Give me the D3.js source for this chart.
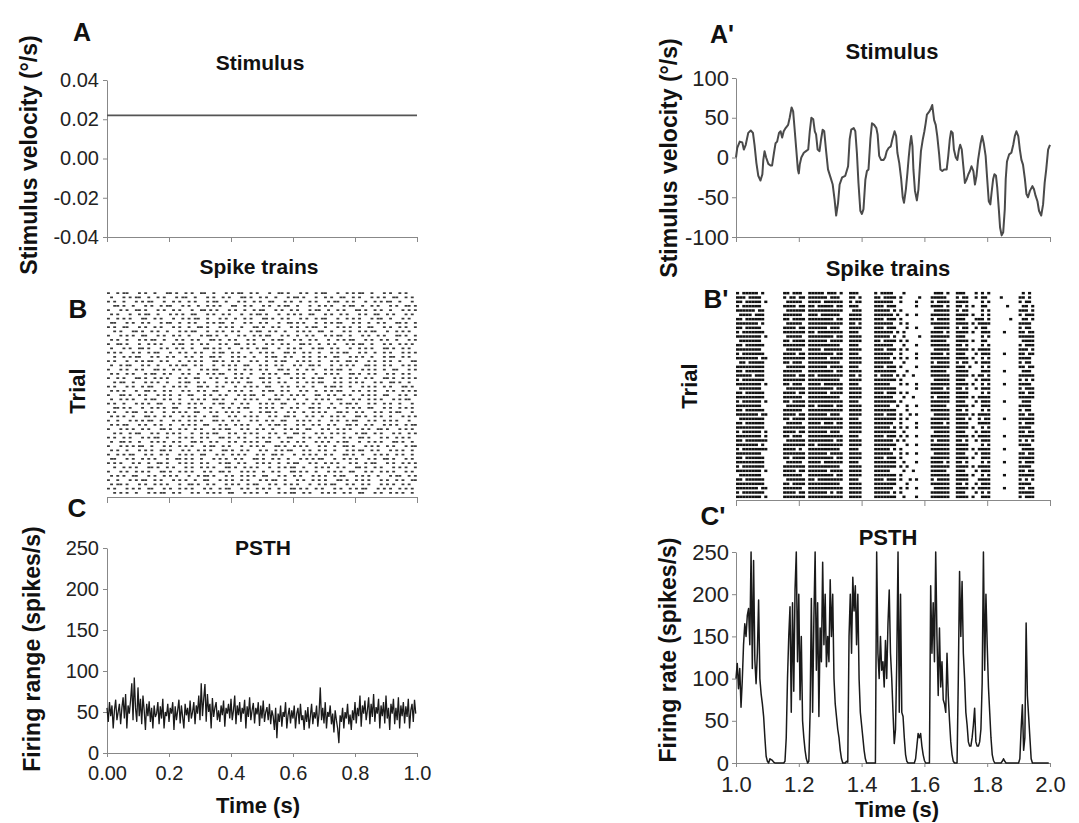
<!DOCTYPE html>
<html><head><meta charset="utf-8">
<script src="https://cdn.jsdelivr.net/npm/d3@7"></script>
<style>html,body{margin:0;padding:0;background:#fff}svg{display:block}</style>
</head><body><svg id="c" width="1079" height="823"></svg>
<script>
// ---------------- DATA ----------------
// Panel A: constant stimulus (°/s)
const stimLeftTimes = [0.0, 1.0];
const stimLeftValues = [0.022, 0.022];
const stimLeftYTicks = [-0.04, -0.02, 0.0, 0.02, 0.04];
// Panel A': random stimulus (°/s)
const stimRightTimes = [1.000,1.004,1.012,1.020,1.025,1.031,1.039,1.047,1.054,1.059,1.065,1.071,1.078,1.084,1.087,1.091,1.096,1.103,1.110,1.115,1.121,1.126,1.131,1.137,1.142,1.147,1.152,1.158,1.166,1.171,1.177,1.182,1.186,1.192,1.197,1.200,1.203,1.208,1.216,1.223,1.230,1.235,1.240,1.246,1.251,1.255,1.260,1.266,1.271,1.276,1.281,1.287,1.293,1.301,1.308,1.314,1.319,1.325,1.330,1.338,1.348,1.357,1.362,1.367,1.375,1.380,1.385,1.390,1.396,1.401,1.406,1.412,1.417,1.422,1.428,1.433,1.440,1.447,1.451,1.456,1.462,1.470,1.475,1.480,1.486,1.493,1.498,1.505,1.510,1.514,1.520,1.526,1.531,1.535,1.541,1.546,1.550,1.554,1.558,1.562,1.565,1.570,1.576,1.581,1.585,1.589,1.595,1.600,1.604,1.608,1.616,1.621,1.625,1.631,1.636,1.641,1.647,1.651,1.657,1.663,1.671,1.676,1.681,1.685,1.690,1.694,1.700,1.705,1.710,1.714,1.719,1.724,1.729,1.735,1.740,1.745,1.750,1.756,1.761,1.766,1.771,1.779,1.784,1.789,1.795,1.800,1.805,1.810,1.814,1.819,1.823,1.828,1.832,1.837,1.841,1.846,1.851,1.856,1.859,1.863,1.870,1.877,1.883,1.888,1.893,1.899,1.904,1.909,1.914,1.920,1.925,1.930,1.936,1.944,1.949,1.954,1.960,1.965,1.972,1.978,1.983,1.988,1.994,2.000];
const stimRightValues = [0,12,20,19,10,16,31,34,31,16,-7,-23,-29,-21,-3,8,0,-8,-10,-10,6,18,20,31,33,25,33,37,41,50,63,58,39,10,-15,-20,-9,0,6,8,10,33,50,48,33,29,10,8,23,35,33,8,-15,-25,-34,-53,-73,-57,-34,-25,-23,-11,23,35,37,33,6,-32,-67,-71,-65,-28,-17,-15,23,43,41,37,29,2,-3,-3,0,8,12,14,23,33,27,6,-7,-27,-50,-57,-40,-19,0,16,27,14,-15,-42,-54,-40,-15,8,23,33,43,54,58,62,66,47,41,27,4,-15,-17,-15,-15,2,23,33,31,10,0,-3,10,16,10,-11,-32,-27,-21,-17,-11,-17,-34,-23,-3,18,27,18,2,-27,-55,-59,-44,-27,-21,-23,-38,-65,-88,-98,-94,-65,-27,-5,4,6,16,27,33,27,10,-3,-9,-27,-46,-50,-42,-36,-40,-48,-55,-67,-73,-59,-32,-15,10,16];
const stimRightYTicks = [-100, -50, 0, 50, 100];

// Time ticks
const timeTicksLeft = [0.0, 0.2, 0.4, 0.6, 0.8, 1.0];
const timeLabelsLeft = ["0.00", "0.2", "0.4", "0.6", "0.8", "1.0"];
const timeTicksRight = [1.0, 1.2, 1.4, 1.6, 1.8, 2.0];
const timeLabelsRight = ["1.0", "1.2", "1.4", "1.6", "1.8", "2.0"];
const rateTicks = [0, 50, 100, 150, 200, 250];

// Panel B: spike trains, one string per trial, one character per 10 ms bin ('#' = spike)
const rasterBin = 0.01;
const rasterLeft = [
"#..#.##...#.#..#...##.#..#.#..##..#...#.#.##..#.#...#..##.#...#.#..#.##...#..#.#.##..#...#.#..#.#..",
".#...#.#.##..#..#.#...#.##..#...#.#..#.#...##.#..#.#..#...#.##.#...#..#.#..##..#.#...#.#.#..##..#.#",
"#.#..#...#.#.##...#..#.#..#.#...#.##..#...#.#..#.#..##...#.#..#..#.#...#.##..#.#...#..#.#.##..#...#.",
"..##.#..#...#.#..#.##...#.#..#..#.#.#...##..#.#...#.#..#.##..#...#..#.#.#...#.##..#..#.#...#.#..##.#",
"#...#.#..##.#...#.#..#.#...#..##.#.#...#.#..#..#.##...#.#..#.#...#.##..#..#.#...##.#..#.#..#...#.#.#",
".#.#...#..#.##..#...#.#.#..##...#.#..#.#...#..#.##.#...#..#.#.#..##...#.#..#.#...#.#..##..#.#...#.#.",
"#..#.#.#...##..#.#...#..#.#.##..#...#.#..#..#.#...##.#..#.#...#.#..#.##...#..#.#.#...#.##..#...#.#..",
".##...#.#..#.#...#.##..#..#.#...#.#.##..#...#.#..#.#...#..##.#.#...#..#.#.##...#.#..#..#.#...##.#..#",
"#.#..##...#.#..#.#...#.#..#..##.#...#.#.#..#...##.#..#.#...#.#..#.##..#...#.#.#..#..##...#.#..#.#..#",
"..#.#...##.#..#.#..#...#.#.##...#..#.#..#.#...#.##..#.#..#...#.#.#..##..#...#.#..#.#.##...#..#.#.#..",
"#...#.#.#..##...#.#..#.#..#...#.##.#..#...#.#..#.#.##...#.#..#..#.#...#.#.##..#...#.#..#.#...##.#..#",
".#.#..#...#.#.##..#...#.#..#.#...##.#..#.#...#.#..#..#.##...#.#..#.#...#..#.#.##...#.#..#.#..#...#.#",
"#..##.#...#..#.#.#...#.##..#..#.#...#.#..##..#.#...#.#..#.#...##.#..#..#.#...#.#.##..#...#.#..#.#.#.",
".#...#.#..##.#...#.#..#.#..#...##.#.#..#...#.#..#.##...#..#.#.#...#.##..#.#...#..#.#.#...##.#..#.#..",
"#.#.#...#.#..#.##...#..#.#..#.#...#.##..#.#...#..#.#.#...##.#..#.#..#...#.#.##...#.#..#..#.#...#.#.#",
"..#..#.#.##...#.#..#.#...#.#..#..##.#...#.#.#..#...#.##..#.#...#.#..#.#..##...#.#.#..#...#.##..#.#..",
"#.#...#..#.#.##..#.#...#..#.#.#...##.#..#.#...#.#..#..#.##...#.#.#..#...#.#..##.#...#.#..#.#..#...##",
".#..#.##...#.#..#...#.#.##..#.#...#..#.#.#..##...#.#..#.#...#.#..##.#...#..#.#.#...##.#..#.#...#.#.#",
"#...#.#..#.#...##.#..#.#..#...#.#.##...#.#..#.#..#.#...##.#..#..#.#...#.#.##..#...#.#.#..#..##...#.#",
".#.#..#.#...#.##..#.#...#.#..#..#.#.##...#.#..#...#.#.#..##..#.#...#..#.#.#...##.#..#.#...#.#..#.#..",
"#..#.#...##.#..#.#.#...#.#..##...#.#..#..#.#.#...##.#..#...#.#.#..#.##...#.#..#.#..#.#...##.#..#.#.#",
"..#.##..#...#.#.#..#...#.##..#.#...#..#.#.#..##...#.#..#.#...#..#.#.##...#.#..#.#.#...#.#..##.#..#..",
"#.#...#.#..#.##...#..#.#.#...##.#..#.#...#..#.#.#..##...#.#..#.#..#...#.##.#..#...#.#.#..#.#...##.#.",
".#.#.#...#..##.#..#.#...#.#..#.#..##...#.#.#..#...#.##..#.#...#.#..#..#.#.##...#.#..#.#...#.#..#.#.#",
"#...##.#..#.#...#.#.#..#..##...#.#..#.#...#.#.##..#...#.#..#.#.#...##..#.#..#.#...#.#.#..##...#.#..#",
".#..#.#.#...#.##..#.#..#...#.#.#..##.#...#..#.#.#...#.##..#.#...#..#.#.#..##...#.#..#.#.#...#.#.##..",
"#.#..#...#.#.#..##...#.#..#.#.#...#.##..#..#.#...#.#.#..##...#.#..#.#...#..#.##.#...#.#..#.#..#...#.",
"..##.#.#...#..#.#.#..##...#.#..#.#...#.#..#.##...#.#.#..#..#.#...##.#..#.#...#.#.#..##...#.#..#.#.#.",
"#.#...#.##..#.#...#..#.#.#..##...#.#..#.#.#...#..#.##.#...#.#..#..#.#.#...##.#..#.#...#.#..#.##...#.",
".#.#.#..#...##.#..#.#...#.#.#..#..##...#.#..#.#.#...#.#..##.#...#.#..#..#.#.#...##.#..#.#..#...#.#.#",
"#..#...#.#.#.##..#...#.#..#.#.#...##.#..#.#...#.#..#.#..##...#.#.#..#...#.#..#.##...#.#..#.#.#...#..",
".#.#.##...#.#..#.#..#...#.#.#..##...#.#..#.#.#...#..#.##.#...#.#..#.#..#.#...##.#..#.#...#.#.#..#.##",
"#...#.#.#..#.#...##.#..#.#..#.#...#.#.##...#.#..#.#..#...#.#.#..##...#.#..#.#.#...#.#..##.#...#.#.#.",
"..#.#..#.##...#.#..#.#.#...#..#.#.##...#.#..#.#.#...#.#..#..##.#...#.#..#.#.#...#.##..#.#...#.#..#.#",
"#.#..#.#...#.#.##..#...#.#.#..#.#...##.#..#.#...#.#.#..#..##...#.#..#.#.#...#.#..##.#...#.#..#.#.#..",
".#..##.#..#...#.#.#..#.#...##.#..#.#...#.#..#.#.#..##...#.#..#.#...#.#.#..#.##...#..#.#.#...##.#..#.",
"#...#.#.#.##..#...#.#..#.#.#...#.##..#.#...#..#.#.#...##.#..#.#.#...#.#..#..##.#...#.#.#..#.#...#.##",
".#.#..#...#.#.#..##.#...#.#..#.#.#...##.#..#.#...#.#..#.#.##...#.#..#.#..#...#.#.##..#.#...#.#.#..#.",
"#..#.#.##...#.#..#.#...#.#.#..##...#.#..#.#.#...#.#..##.#...#..#.#.#..#.#...##.#..#...#.#.#..#.#..#.",
".##...#.#..#.#.#...#..##.#.#..#...#.#.#..#.#...##.#..#.#..#...#.#.#.##...#..#.#.#...#.#..##.#...#.#.",
"#.#.#...#.#..#..##.#...#.#.#..#.#...#.##..#.#...#.#.#..#..#.##...#.#..#.#.#...#.#..#.##...#.#..#.#.#",
"..#..#.#.#...##.#..#.#...#.#..#.#.#...##.#..#.#.#...#..#.#.##..#...#.#.#..#.#...##.#..#.#...#.#.#..#",
"#...#.#..#.#.#...##.#..#.#.#...#.#..##.#...#.#.#..#..#.#...##.#.#..#...#.#.#..##...#.#..#.#.#...#.#.",
".#.#.#..##...#.#..#.#.#...#..#.##.#...#.#..#.#.#..##...#.#..#.#...#.#.#..#.##...#.#.#..#...#.##..#.#",
"#..#...#.#.##..#.#...#.#.#..#..##...#.#.#..#.#...#.#.##..#...#.#..#.#.#...##.#..#.#.#...#.#..#.#..##",
".#.##.#...#.#..#.#.#...#..##.#..#.#...#.#.#..#.##...#.#..#.#.#...#..#.#.##...#.#..#.#...#.#.#..#.#..",
"#.#...#.#.#..##...#.#..#.#.#...#.#..#.##...#.#..#.#.#..#...##.#.#..#.#...#.#..#.#.##...#.#.#..#.#.#.",
"..#.#.#..#...#.#.##..#.#...#.#..#.#.#..##...#.#.#..#...#.#.##..#.#...#.#.#..#.#..##...#.#..#.#.#..#."
];
const rasterRight = [
"#.#####.#. .....##.## #..#####.# ##.#..###. ....#.#### ...#...... ...###.#.. ###...#.#. #......... .#.#......",
"###.####.. .....#.##. ##.######. ###...##.# ....##.### #.#.....#. ..#####... #.##..#.## ....#..... ##.#......",
"##.#####.# ......#### #..####.## ####..#.## ....###### ..#....#.. ..#.####.. ####....#. #......... #.##......",
"#.######.. .....####. ##.##.#### #.##..###. ....###.## #......#.. ..####.#.. ##.#.#..## ......#... .##.#.....",
"######.##. ......#### ##.####### ####...### ....#####. #.#....... ...#####.. #.##....#. #......... ###.#.....",
".####.###. .....##### #..###.### ###...#### ....###### .#..#..#.. ..######.. ####.#..#. #......... #.###.....",
"##.######. .....##.## ##.####### #.##..#### ....###.## #.#....... ..#.####.. ###...###. #......#.. .##.#.....",
"#######.#. ......#### #..####### ####..##.# ....###### ..#.#..... ..######.. ####.#.### #......... ####......",
"##.#####.. .....####. ##.######. ###...#### ....###.## #...#..#.. ...#####.. #.##..#.## .......... #.##......",
"#.#######. .....##### ##.##.#### ####..###. ....###### .#.#...... ..####.#.. ####.#..## #....#.... ##.##.....",
"########.# ......#### #..####### #.##..#### ....#####. #..#....#. ..######.. ###.....#. #......... #####.....",
".#######.. .....##.## ##.######. ####..#### ....##.### #.#.#..... ..#####... ####.#..## .......... .####.....",
"##.######. .....##### ##.####### ###...###. ....###### ...#...#.. ..######.. ##.#....#. #......... #.###.....",
"########.. ......#### #..####.## ####..#### ....###.## #.#.#..... ...#####.. ####.#.### #......... ###.#.....",
"#.#######. .....####. ##.####### #.##..###. ....###### ..#....#.. ..####.#.. ###...#.## #....#.... ##.##.....",
"#######.## .....##### ##.######. ####..#### ....#####. #.#.#..#.. ..######.. ####.#..#. #......... ####......",
".##.#####. .....##.## #..####### ###...#### ....###### ...#...... ..#.####.. #.##..#.## #......... #.##......",
"#########. ......#### ##.######. ####..###. ....###.## #.#....#.. ..######.. ###.#...#. #......... ##.##.....",
"##.######. .....##### #..####### #.##..#### ....###### #...#..... ..#####... ####....## #....#.... .###......",
"#####.###. .....####. ##.##.#### ####..##.# ....#.#### .#.#..#... ..######.. ####.#.##. #......... #####.....",
"#.#######. .....##### ##.####### ###...#### ....###### #.#....... ...#####.. ###...#.## #......... #.#.#.....",
"########.# .....##.## #..####.## ####..###. ....#####. ..#.#..#.. ..######.. ####.#..#. #....#.... ####......",
".#######.. ......#### ##.####### #.##..#### ....###### #......#.. ..####.#.. ##.#..#.## #......... #.###.....",
"##.######. .....####. ##.######. ####..#### ....###.## #.#.#..... ..######.. ####....#. #......... ##.##.....",
"#########. .....##### #..####### ###...#### ....###### ...#..#... ..#.####.. ####.#.### #......... #####.....",
"#.######.# .....##.## ##.####### ####..###. ....###### #.#....... ..######.. ###...#.## #....#.... .###......",
"########.. ......#### ##.##.#### #.##..#### ....#####. .#..#..#.. ..#####... ####.#..## #......... ####......",
"##.######. .....##### #..####### ####..#### ....###### #...#..... ..######.. ##.#....#. #......... #.##......",
"#######.## .....####. ##.######. ###...#### ....###.## #.#..#.#.. ...#####.. ####.#.### #......... ##.##.....",
".########. .....##.## ##.####### ####..###. ....###### #.#.#..... ..######.. ###.#..#.# #....#.... #####.....",
"##.######. ......#### #..####.## #.##..#### ....###### ..#....#.. ..####.#.. ####...### #......... #.###.....",
"#########. .....##### ##.####### ####..#### ....#####. #.#.#..#.. ..######.. ####.#..#. #......... ####......",
"#.######.# .....####. ##.######. ###...#### ....###### #..#...... ...#####.. ###...#.## #......... ##.##.....",
"########.# .....##.## #..####### ####..###. ....###.## #.#.#..#.. ..######.. ####.#.### #....#.... #####.....",
"##.####### ......#### ##.####### #.##..#### ....###### .#.#...... ..#.####.. ##.#..#.## #......... #.#.#.....",
"#######.#. .....##### ##.##.#### ####..#### ....###### #...#..#.. ..######.. ####....#. #......... ####......",
"#.######## .....####. #..####### ###...###. ....#####. #.#....... ..######.. ####.#.### #....#.... .####.....",
"########.. .....##### ##.######. ####..#### ....###### ..#.#..#.. ...#####.. ###...#.## #......... ##.##.....",
"##.######. .....##.## ##.####### #.##..#### ....###.## #.#....... ..######.. ####.#..## #......... #####.....",
"#########. ......#### #..####.## ####..###. ....###### #..#...#.. ..####.#.. ##.#....#. #....#.... #.###.....",
"#.#######. .....##### ##.####### ###...#### ....###### #.#.#..... ..######.. ####.#.### #......... ####......",
"########.# .....####. ##.######. ####..#### ....#####. ...#..#... ..#####... ###...#.## #......... ##.##.....",
".#######.. .....##### #..####### #.##..#### ....###### #.#....... ..######.. ####.#..#. #....#.... #####.....",
"##.######. ......#### ##.##.#### ####..###. ....###.## #.#..#.#.. ..#.####.. ####...### #......... #.#.#.....",
"#########. .....##.## ##.####### ###...#### ....###### #...#..... ..######.. ##.#..#.## #......... ####......",
"#######.## .....##### #..####### ####..#### ....###### ..#.#..#.. ...#####.. ####.#.### #....#.... ##.##.....",
"#.#######. .....####. ##.######. #.##..#### ....#####. #.#....... ..######.. ###...#.#. #......... #####.....",
"########.# .....##### ##.####### ####..#### ....###### #..#...#.. ..######.. ####.#..## #......... #.###....."
];

// Panel C: PSTH (spikes/s), 4 ms bins
const psthBin = 0.004;
const psthLeftStart = 0.0;
const psthLeftValues = [
55,38,62,45,58,30,52,65,40,50, 60,35,55,68,42,72,30,58,48,64,
85,40,92,55,38,80,45,66,35,70, 52,28,60,45,63,38,55,30,58,44,
48,62,35,57,42,66,30,50,45,60, 38,55,48,62,28,57,40,52,65,36,
58,44,30,60,46,55,38,64,42,50, 62,35,58,48,70,40,85,45,66,84,
38,72,50,60,30,67,44,55,62,40, 52,38,58,46,64,32,55,48,60,42,
66,40,52,70,35,58,46,62,38,55, 48,65,30,57,44,68,40,52,61,36,
55,47,62,33,58,42,64,38,50,56, 40,60,35,52,45,28,55,18,48,38,
58,32,50,44,62,30,46,55,36,52, 42,58,30,48,55,35,60,40,46,28,
52,38,56,30,45,60,35,50,42,58, 32,48,80,40,55,36,62,30,50,44,
58,35,48,25,52,40,30,12,46,38, 55,30,50,42,60,35,47,28,52,40,
62,36,55,45,70,32,58,48,64,40, 52,68,35,60,44,72,38,56,48,66,
30,58,45,62,36,70,42,55,28,60, 48,66,35,55,40,68,30,58,45,62,
36,57,44,66,30,52,60,38,65,48];
const psthRightStart = 1.0;
const psthRightValues = [
100,118,88,112,66,98,140,165,150,175, 183,140,250,112,240,122,94,130,193,100,
82,70,55,30,8,2,0,5,4,3, 1,0,0,0,0,0,0,0,0,2,
30,100,150,185,60,190,85,205,250,120, 200,75,150,50,30,15,5,0,2,60,
195,60,170,250,110,190,55,160,120,238, 140,200,114,150,120,217,150,200,100,70,
55,40,30,15,5,0,0,0,2,1, 150,200,130,220,180,210,140,200,100,60,
45,30,15,5,0,0,0,0,0,0, 0,0,250,130,100,150,110,120,90,145,
100,165,205,130,100,60,23,40,120,250, 60,200,60,55,30,10,2,0,0,0,
0,0,0,5,20,35,30,35,20,10, 3,0,0,0,0,210,130,190,120,250,
150,80,160,90,120,75,70,60,130,80, 50,25,10,2,0,0,0,100,227,150,
215,130,100,60,45,25,20,20,30,45, 65,25,20,20,25,40,95,250,110,200,
140,90,60,30,10,3,0,0,0,0, 0,0,2,5,2,0,0,0,0,0,
0,0,0,0,0,0,5,40,69,15, 30,166,80,55,30,5,0,0,0,0,
0,0,0,0,0,0,0,0,0,0];

// ---------------- DRAWING ----------------
const FONT = '"Liberation Sans", Arial, Helvetica, sans-serif';
const svg = d3.select('#c');

function txt(s, x, y, size, bold, rotate, anchor) {
  const t = svg.append('text').text(s)
    .attr('font-family', FONT).attr('font-size', size)
    .attr('font-weight', bold ? 'bold' : 'normal')
    .attr('fill', '#111')
    .attr('text-anchor', anchor || 'middle')
    .attr('dominant-baseline', 'central');
  if (rotate) t.attr('transform', `translate(${x},${y}) rotate(-90)`);
  else t.attr('x', x).attr('y', y);
  return t;
}
function styleAxis(g, fs) {
  g.attr('font-family', FONT).attr('font-size', fs);
  g.select('.domain').attr('stroke', '#888').attr('stroke-width', 1);
  g.selectAll('.tick line').attr('stroke', '#888');
  g.selectAll('.tick text').attr('fill', '#222');
}

// x scales
const xL = d3.scaleLinear().domain([0, 1]).range([107, 417]);
const xR = d3.scaleLinear().domain([1, 2]).range([736, 1050]);

// ---- Panel A (left) ----
const yA = d3.scaleLinear().domain([-0.04, 0.04]).range([237, 80]);
styleAxis(svg.append('g').attr('transform', 'translate(107,0)')
  .call(d3.axisLeft(yA).tickValues(stimLeftYTicks).tickFormat(d => d.toFixed(2)).tickSize(4).tickPadding(4).tickSizeOuter(0)), 20);
styleAxis(svg.append('g').attr('transform', 'translate(0,237)')
  .call(d3.axisBottom(xL).tickValues(timeTicksLeft).tickFormat('').tickSize(5).tickSizeOuter(0)), 20);
svg.append('path').datum(stimLeftTimes.map((t, i) => [t, stimLeftValues[i]]))
  .attr('fill', 'none').attr('stroke', '#555').attr('stroke-width', 1.6)
  .attr('d', d3.line().x(d => xL(d[0])).y(d => yA(d[1])));

// ---- Panel A' (right) ----
const yAR = d3.scaleLinear().domain([-100, 100]).range([237, 78]);
styleAxis(svg.append('g').attr('transform', 'translate(736,0)')
  .call(d3.axisLeft(yAR).tickValues(stimRightYTicks).tickFormat(d => String(d)).tickSize(4).tickPadding(3).tickSizeOuter(0)), 22);
styleAxis(svg.append('g').attr('transform', 'translate(0,237)')
  .call(d3.axisBottom(xR).tickValues(timeTicksRight).tickFormat('').tickSize(5).tickSizeOuter(0)), 22);
const nS = Math.min(stimRightTimes.length, stimRightValues.length);
svg.append('path').datum(d3.range(nS).map(i => [stimRightTimes[i], stimRightValues[i]]))
  .attr('fill', 'none').attr('stroke', '#4a4a4a').attr('stroke-width', 2).attr('stroke-linejoin', 'round')
  .attr('d', d3.line().x(d => xR(d[0])).y(d => yAR(d[1])));

// ---- Rasters ----
function raster(rows, xs, t0, yTop, yBot, mw, mh, color) {
  const clean = rows.map(s => s.replace(/ /g, ''));
  const yb = d3.scaleBand().domain(d3.range(clean.length)).range([yTop, yBot]);
  const spikes = [];
  clean.forEach((s, r) => {
    for (let i = 0; i < Math.min(100, s.length); i++) if (s[i] === '#') spikes.push({ r, t: t0 + i * rasterBin });
  });
  svg.append('g').selectAll('rect').data(spikes).join('rect')
    .attr('x', d => xs(d.t)).attr('y', d => yb(d.r) + (yb.bandwidth() - mh) / 2)
    .attr('width', mw).attr('height', mh).attr('fill', color);
  return yb;
}
raster(rasterLeft, xL, 0, 291, 495, 2.9, 1.7, '#3a3a3a');
styleAxis(svg.append('g').attr('transform', 'translate(0,497)')
  .call(d3.axisBottom(xL).tickValues(timeTicksLeft).tickFormat('').tickSize(6).tickSizeOuter(0)), 20);
raster(rasterRight, xR, 1.0, 291, 499, 3.1, 2.5, '#111');
styleAxis(svg.append('g').attr('transform', 'translate(0,500)')
  .call(d3.axisBottom(xR).tickValues(timeTicksRight).tickFormat('').tickSize(6).tickSizeOuter(0)), 22);

// ---- PSTH (left) ----
const yC = d3.scaleLinear().domain([0, 250]).range([753, 548]);
styleAxis(svg.append('g').attr('transform', 'translate(107,0)')
  .call(d3.axisLeft(yC).tickValues(rateTicks).tickSize(4).tickPadding(4).tickSizeOuter(0)), 20);
styleAxis(svg.append('g').attr('transform', 'translate(0,753)')
  .call(d3.axisBottom(xL).tickValues(timeTicksLeft).tickFormat((d, i) => timeLabelsLeft[i]).tickSize(4).tickPadding(9).tickSizeOuter(0)), 20);
svg.append('path').datum(psthLeftValues)
  .attr('fill', 'none').attr('stroke', '#1a1a1a').attr('stroke-width', 1.3)
  .attr('d', d3.line().x((d, i) => xL(psthLeftStart + i * psthBin)).y(d => yC(d)));

// ---- PSTH (right) ----
const yCR = d3.scaleLinear().domain([0, 250]).range([763, 552]);
styleAxis(svg.append('g').attr('transform', 'translate(736,0)')
  .call(d3.axisLeft(yCR).tickValues(rateTicks).tickSize(4).tickPadding(3).tickSizeOuter(0)), 22);
styleAxis(svg.append('g').attr('transform', 'translate(0,763)')
  .call(d3.axisBottom(xR).tickValues(timeTicksRight).tickFormat((d, i) => timeLabelsRight[i]).tickSize(4).tickPadding(9).tickSizeOuter(0)), 22);
svg.append('path').datum(psthRightValues)
  .attr('fill', 'none').attr('stroke', '#1a1a1a').attr('stroke-width', 1.5).attr('stroke-linejoin', 'round')
  .attr('d', d3.line().x((d, i) => xR(psthRightStart + i * psthBin)).y(d => yCR(d)));

// ---- Text ----
txt('A', 82, 32, 25, true);
txt("A'", 722, 34, 25, true);
txt('B', 78, 309, 26, true);
txt("B'", 716, 299, 26, true);
txt('C', 77, 508, 26, true);
txt("C'", 713, 516, 26, true);

txt('Stimulus', 260, 62, 21, true);
txt('Stimulus', 892, 51, 22, true);
txt('Spike trains', 259, 266, 21, true);
txt('Spike trains', 888, 268, 22, true);
txt('PSTH', 263, 547, 21, true);
txt('PSTH', 888, 537, 22, true);

txt('Stimulus velocity (°/s)', 29, 155, 23, true, true);
txt('Stimulus velocity (°/s)', 669, 158, 23, true, true);
txt('Trial', 77, 391, 22, true, true);
txt('Trial', 689, 386, 22, true, true);
txt('Firing range (spikes/s)', 32, 649, 23, true, true);
txt('Firing rate (spikes/s)', 668, 650, 23, true, true);
txt('Time (s)', 258, 805, 22, true);
txt('Time (s)', 897, 809, 22, true);
</script></body></html>
